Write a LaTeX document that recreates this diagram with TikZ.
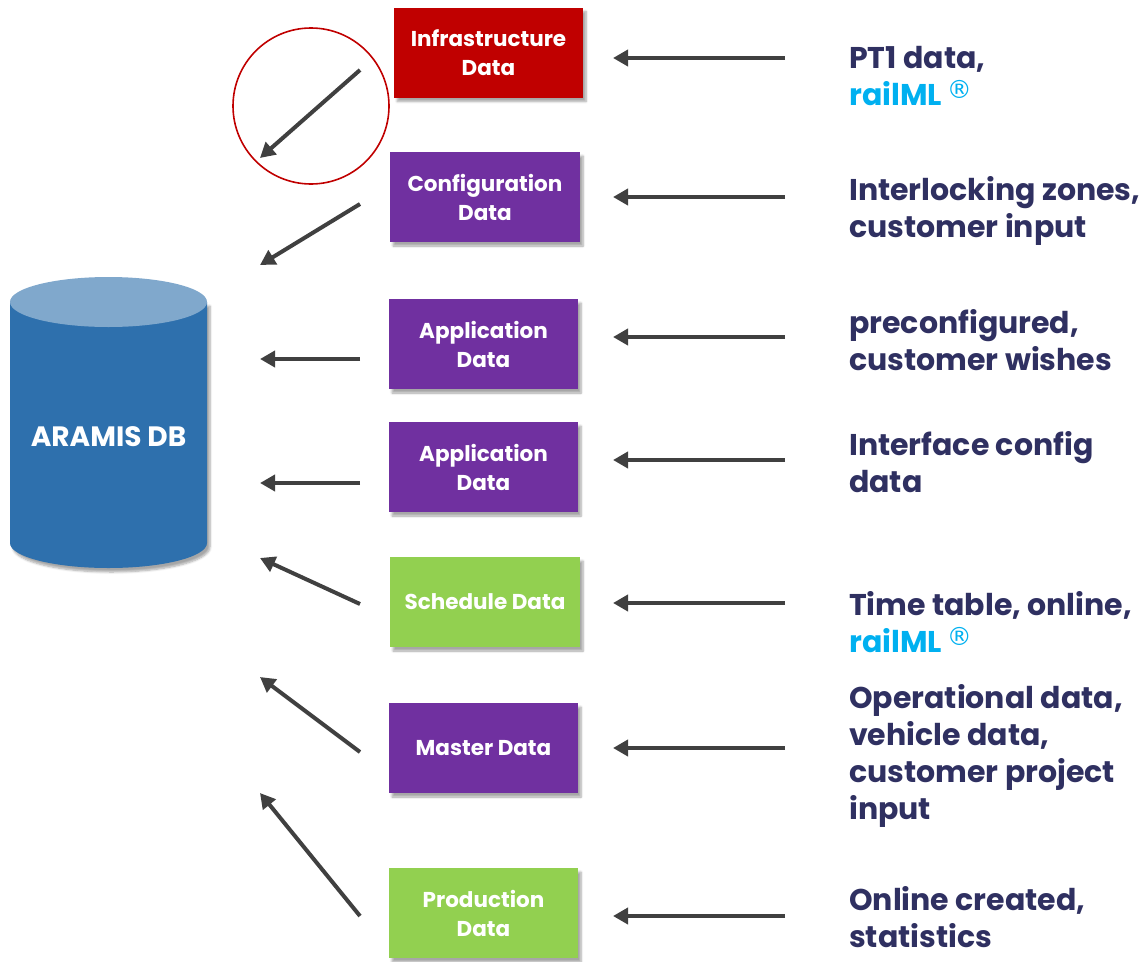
\documentclass[tikz,border=0pt]{standalone}
\usepackage{fontspec}
\setmainfont{Poppins}
\newfontfamily\symfont{DejaVu Sans}
\usetikzlibrary{arrows.meta,shadows.blur}
\definecolor{infrared}{HTML}{C00000}
\definecolor{purp}{HTML}{7030A0}
\definecolor{grn}{HTML}{92D050}
\definecolor{navy}{HTML}{2F3061}
\definecolor{rml}{HTML}{00B0F0}
\definecolor{arr}{HTML}{404040}
\definecolor{dbside}{HTML}{2E70AD}
\definecolor{dbtop}{HTML}{80A8CC}
\newcommand{\rmlword}{\textcolor{rml}{railML}\hspace{5pt}\raisebox{7pt}{\fontsize{25}{25}\selectfont\symfont\mdseries\textcolor{rml}{®}}}
\newcommand{\topstrut}{\rule{0pt}{30pt}}
\begin{document}
\begin{tikzpicture}[x=1pt,y=-1pt,
 databox/.style={minimum width=189pt,minimum height=90pt,inner sep=0pt,align=center,text=white,
   font=\fontsize{21.5}{29}\selectfont\bfseries,
   blur shadow={shadow xshift=3pt,shadow yshift=-4pt,shadow blur steps=6,shadow opacity=35}},
 flow/.style={draw=arr,line width=4pt,-{Triangle[length=15pt,width=16pt]}},
 src/.style={anchor=north west,align=left,text=navy,font=\fontsize{30}{37}\selectfont\bfseries,inner sep=0pt}]
\useasboundingbox (0,0) rectangle (1139,961);

% database cylinder
\fill[dbside,blur shadow={shadow xshift=3pt,shadow yshift=-4pt,shadow blur steps=6,shadow opacity=35}]
  (10,302) -- (10,543) .. controls (10,556.8) and (54.1,568) .. (108.5,568)
  .. controls (162.9,568) and (207,556.8) .. (207,543) -- (207,302) -- cycle;
\fill[dbtop] (108.5,302) ellipse [x radius=98.5,y radius=25];
\node[text=white,font=\fontsize{28}{32}\selectfont\bfseries] (db) at (108.5,437) {ARAMIS DB};

% data boxes
\node[databox,fill=infrared] (infra) at (488.5,52.5) {Infrastructure\\Data};
\node[databox,fill=purp,minimum width=190pt] (config) at (485,197) {Configuration\\Data};
\node[databox,fill=purp] (appA) at (483.5,344) {Application\\Data};
\node[databox,fill=purp] (appB) at (483.5,467) {Application\\Data};
\node[databox,fill=grn,minimum width=190pt] (sched) at (485,602) {Schedule Data};
\node[databox,fill=purp] (master) at (483.5,748) {Master Data};
\node[databox,fill=grn] (prod) at (483.5,913) {Production\\Data};

% highlight circle
\node[draw=infrared,line width=1.6pt,circle,minimum size=156pt,inner sep=0pt] (hl) at (311,106) {};

% source texts
\node[src] (tA) at (849,38) {\topstrut PT1 data,\\\rmlword};
\node[src] (tB) at (849,170) {\topstrut Interlocking zones,\\customer input};
\node[src] (tC) at (849,303) {\topstrut preconfigured,\\customer wishes};
\node[src] (tD) at (849,425) {\topstrut Interface config\\data};
\node[src] (tE) at (849,585) {\topstrut Time table, online,\\\rmlword};
\node[src] (tF) at (849,678) {\topstrut Operational data,\\vehicle data,\\customer project\\input};
\node[src] (tG) at (849,880) {\topstrut Online created,\\statistics};

% right arrow coordinates
\foreach \n/\y in {A/58,B/197,C/337,D/460,E/603,F/748,G/916}{
  \coordinate (rs\n) at (785,\y);
  \coordinate (re\n) at (613,\y);
}
\foreach \n in {A,B,C,D,E,F,G}{
  \draw[flow] (rs\n) -- (re\n);
}

% left arrow coordinates
\coordinate (lsA) at (360,70);  \coordinate (leA) at (260,158);
\coordinate (lsB) at (360,204); \coordinate (leB) at (260,265);
\coordinate (lsC) at (360,359); \coordinate (leC) at (260,359);
\coordinate (lsD) at (360,483); \coordinate (leD) at (260,483);
\coordinate (lsE) at (360,604); \coordinate (leE) at (260,558);
\coordinate (lsF) at (360,752); \coordinate (leF) at (260,677);
\coordinate (lsG) at (360,916); \coordinate (leG) at (260,793);
\foreach \n in {A,B,C,D,E,F,G}{
  \draw[flow] (ls\n) -- (le\n);
}
\end{tikzpicture}
\end{document}
